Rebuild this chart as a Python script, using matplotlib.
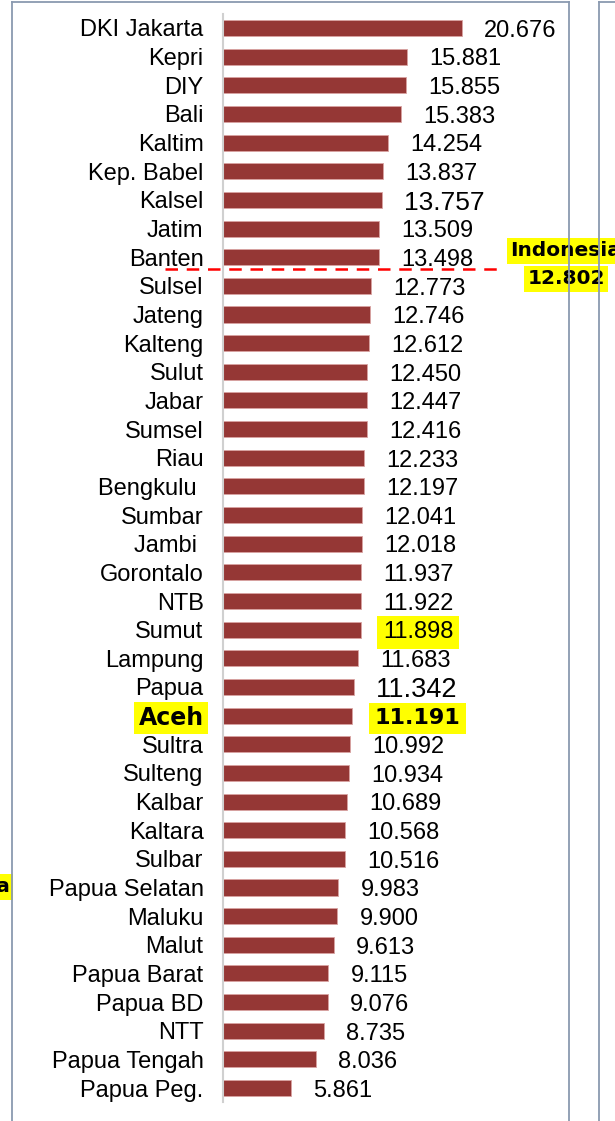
import matplotlib
matplotlib.use("Agg")
import matplotlib.pyplot as plt
from matplotlib.lines import Line2D

plt.rcParams['font.family'] = ['Liberation Sans', 'DejaVu Sans']

provinces = ["DKI Jakarta", "Kepri", "DIY", "Bali", "Kaltim", "Kep. Babel", "Kalsel",
             "Jatim", "Banten", "Sulsel", "Jateng", "Kalteng", "Sulut", "Jabar", "Sumsel",
             "Riau", "Bengkulu ", "Sumbar", "Jambi ", "Gorontalo", "NTB", "Sumut", "Lampung",
             "Papua", "Aceh", "Sultra", "Sulteng", "Kalbar", "Kaltara", "Sulbar",
             "Papua Selatan", "Maluku", "Malut", "Papua Barat", "Papua BD", "NTT",
             "Papua Tengah", "Papua Peg."]
values = [20.676, 15.881, 15.855, 15.383, 14.254, 13.837, 13.757, 13.509, 13.498, 12.773,
          12.746, 12.612, 12.450, 12.447, 12.416, 12.233, 12.197, 12.041, 12.018, 11.937,
          11.922, 11.898, 11.683, 11.342, 11.191, 10.992, 10.934, 10.689, 10.568, 10.516,
          9.983, 9.900, 9.613, 9.115, 9.076, 8.735, 8.036, 5.861]
national_label = "Indonesia"
national_value = 12.802

W, H = 615, 1121
fig = plt.figure(figsize=(W / 100, H / 100), dpi=100)

# frames (drawn on top of everything)
frame_col = "#8a9ab0"
for xs, ys in [([12 / W, 12 / W], [0, 1 - 2 / H]),
               ([569 / W, 569 / W], [0, 1 - 2 / H]),
               ([12 / W, 569 / W], [1 - 2 / H, 1 - 2 / H]),
               ([599 / W, 599 / W], [0, 1 - 2 / H]),
               ([599 / W, 1], [1 - 2 / H, 1 - 2 / H])]:
    fig.add_artist(Line2D(xs, ys, color=frame_col, lw=1.3, zorder=20))

ax = fig.add_axes([223 / W, 0, (569 - 223) / W, 1])
ax.set_facecolor("none")
n = len(values)
pos = list(range(n))
ax.barh(pos, values, height=0.56, color="#953735", edgecolor="#d9a3a2", linewidth=0.6)
ax.set_xlim(0, (569 - 223) / 11.56)
top = -28 / 28.65
ax.set_ylim(top + H / 28.65, top)

for s in ax.spines.values():
    s.set_visible(False)
ax.plot([0, 0], [-0.5, n - 0.5], color="#d0d0d0", lw=1.5, clip_on=False)
ax.set_xticks([])
ax.set_yticks(pos)
ax.set_yticklabels(provinces, fontsize=17)
ax.tick_params(axis='y', length=0, pad=14)

heavy = ['DejaVu Sans']
for lbl in ax.get_yticklabels():
    if lbl.get_text() == "Aceh":
        lbl.set_fontfamily(heavy)
        lbl.set_fontweight("bold")
        lbl.set_fontsize(17)
        lbl.set_bbox(dict(facecolor="#ffff00", edgecolor="none", pad=3.0))

for i, (name, v) in enumerate(zip(provinces, values)):
    kw = dict(fontsize=17)
    dy = -2
    if name == "Kalsel":
        kw["fontsize"] = 19
    if name == "Papua":
        kw["fontsize"] = 19.5
    if name == "Sumut":
        kw["bbox"] = dict(facecolor="#ffff00", edgecolor="none", pad=4.0)
    if name == "Aceh":
        kw["fontsize"] = 16
        kw["family"] = heavy
        kw["fontweight"] = "bold"
        kw["bbox"] = dict(facecolor="#ffff00", edgecolor="none", pad=4.0)
    ax.annotate(f"{v:.3f}", (v, i), xytext=(16, dy), textcoords="offset points",
                ha="left", va="center", **kw)

# national reference line between Banten and Sulsel
ax.plot([-5.0, 24.4], [8.42, 8.42], color="#ff0000", lw=1.8, ls=(0, (5, 3.5)), clip_on=False)

# national label
box = dict(facecolor="#ffff00", edgecolor="none", pad=2.5)
fig.text(566 / W, 1 - 251 / H, national_label, fontsize=14.5, fontweight="bold",
         family=heavy, ha="center", va="center", bbox=box)
fig.text(566 / W, 1 - 279 / H, f"{national_value:.3f}", fontsize=14.5, fontweight="bold",
         family=heavy, ha="center", va="center", bbox=box)
# clipped label from neighbouring chart
fig.text(10 / W, 1 - 887 / H, national_label, fontsize=14.5, fontweight="bold",
         family=heavy, ha="right", va="center", bbox=box)

fig.savefig("out.png", dpi=100)
